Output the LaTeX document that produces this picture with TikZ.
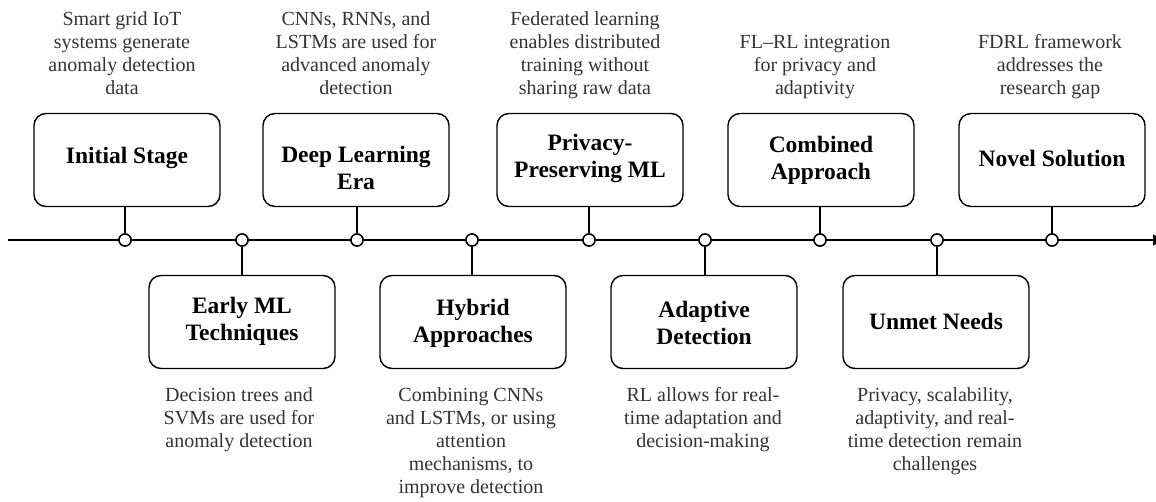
\documentclass[tikz,border=0pt]{standalone}
\usepackage{fontspec}
\setmainfont{Liberation Serif}
\usetikzlibrary{arrows.meta}
\begin{document}
\begin{tikzpicture}[x=1pt,y=-1pt,
  stage/.style={draw, line width=1.4pt, rounded corners=12pt, minimum width=186pt, minimum height=93pt, inner sep=0pt},
  title/.style={font=\fontsize{23.5}{27}\selectfont\bfseries, align=center, inner sep=0pt},
  desc/.style={font=\fontsize{20}{23}\selectfont, align=center, text=black!80, inner sep=0pt},
  dot/.style={circle, draw, fill=white, line width=1.4pt, minimum size=12pt, inner sep=0pt},
  link/.style={line width=1.4pt}]
\useasboundingbox (0,0) rectangle (1156,501);
% timeline
\coordinate (start) at (8,240);
\coordinate (stop) at (1163,240);
\draw[link, -{Triangle[length=10pt,width=11pt]}] (start) -- (stop);
% dots
\foreach \n/\x in {1/125,2/242,3/357,4/472,5/589,6/705,7/820,8/937,9/1052}
  \node[dot] (c\n) at (\x,240) {};
% top boxes
\node[stage] (b1) at (127,160) {};
\node[stage] (b3) at (356,160) {};
\node[stage] (b5) at (590,160) {};
\node[stage] (b7) at (821,160) {};
\node[stage] (b9) at (1052,160) {};
% bottom boxes
\node[stage] (b2) at (242,322) {};
\node[stage] (b4) at (473,322) {};
\node[stage] (b6) at (704,322) {};
\node[stage] (b8) at (936,322) {};
% connectors
\foreach \n in {1,3,5,7,9}
  \draw[link] (c\n.north) -- (c\n |- b\n.south);
\foreach \n in {2,4,6,8}
  \draw[link] (c\n.south) -- (c\n |- b\n.north);
\foreach \n in {1,...,9}
  \node[dot] at (c\n) {};
% titles
\node[title] (t1) at (127,158) {Initial Stage};
\node[title] (t3) at (356,168) {Deep Learning\\Era};
\node[title] (t5) at (590,158) {Privacy-\\Preserving ML};
\node[title] (t7) at (821,160) {Combined\\Approach};
\node[title] (t9) at (1052,158) {Novel Solution};
\node[title] (t2) at (242,321) {Early ML\\Techniques};
\node[title] (t4) at (473,323) {Hybrid\\Approaches};
\node[title] (t6) at (704,323) {Adaptive\\Detection};
\node[title] (t8) at (936,321) {Unmet Needs};
% descriptions above
\node[desc, anchor=south] (d1) at (122,102) {\strut Smart grid IoT\\systems generate\\anomaly detection\\data\strut};
\node[desc, anchor=south] (d3) at (356,102) {\strut CNNs, RNNs, and\\LSTMs are used for\\advanced anomaly\\detection\strut};
\node[desc, anchor=south] (d5) at (585,102) {\strut Federated learning\\enables distributed\\training without\\sharing raw data\strut};
\node[desc, anchor=south] (d7) at (815,102) {\strut FL--RL integration\\for privacy and\\adaptivity\strut};
\node[desc, anchor=south] (d9) at (1050,102) {\strut FDRL framework\\addresses the\\research gap\strut};
% descriptions below
\node[desc, anchor=north] (d2) at (239,385) {\strut Decision trees and\\SVMs are used for\\anomaly detection\strut};
\node[desc, anchor=north] (d4) at (471,385) {\strut Combining CNNs\\and LSTMs, or using\\attention\\mechanisms, to\\improve detection\strut};
\node[desc, anchor=north] (d6) at (703,385) {\strut RL allows for real-\\time adaptation and\\decision-making\strut};
\node[desc, anchor=north] (d8) at (935,385) {\strut Privacy, scalability,\\adaptivity, and real-\\time detection remain\\challenges\strut};
\end{tikzpicture}
\end{document}
